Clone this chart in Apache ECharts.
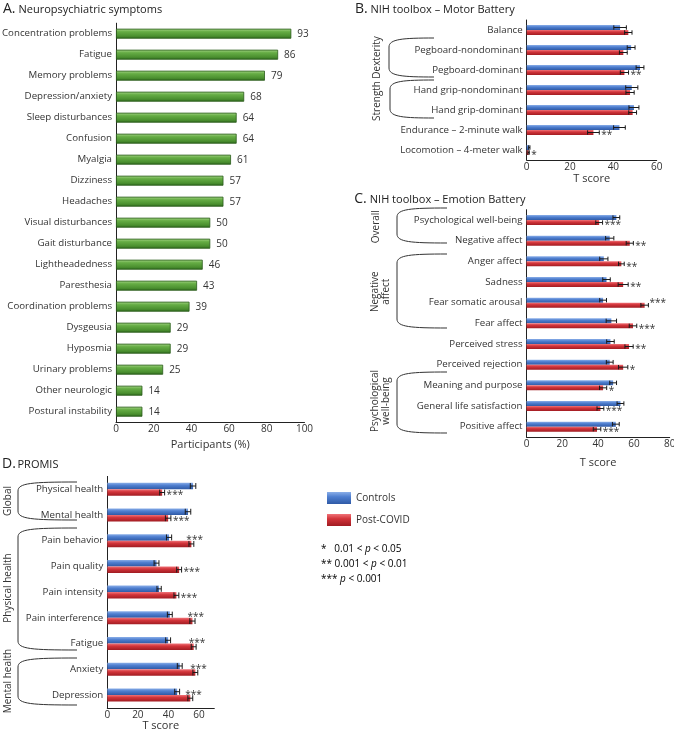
<!DOCTYPE html>
<html><head><meta charset="utf-8">
<script src="https://cdn.jsdelivr.net/npm/echarts@6/dist/echarts.min.js"></script>
<style>html,body{margin:0;padding:0;background:#fff}#c{width:674px;height:733px}</style>
</head><body><div id="c"></div>
<script>
const FONT = '"Open Sans", sans-serif';
const TXT = '#333';

// ---- Panel A data ----
const symptoms = ['Concentration problems','Fatigue','Memory problems','Depression/anxiety','Sleep disturbances','Confusion','Myalgia','Dizziness','Headaches','Visual disturbances','Gait disturbance','Lightheadedness','Paresthesia','Coordination problems','Dysgeusia','Hyposmia','Urinary problems','Other neurologic','Postural instability'];
const symptomPct = [93,86,79,68,64,64,61,57,57,50,50,46,43,39,29,29,25,14,14];

// ---- Panel B data ----
const motorTests = ['Balance','Pegboard-nondominant','Pegboard-dominant','Hand grip-nondominant','Hand grip-dominant','Endurance – 2-minute walk','Locomotion – 4-meter walk'];
const motorControls = [43.1,48.2,52.3,48.5,49.5,42.8,1.2];
const motorControlsErr = [2.9,1.8,1.8,2.8,2.3,2.7,0.3];
const motorPostCovid = [46.9,44.6,45.1,47.7,48.9,30.8,0.9];
const motorPostCovidErr = [1.7,1.8,1.9,1.9,1.8,2.7,0.3];
const motorSig = ['','','**','','','**','*'];
const motorSigPlace = ['r','r','r','r','r','r','r'];

// ---- Panel C data ----
const emotionScales = ['Psychological well-being','Negative affect','Anger affect','Sadness','Fear somatic arousal','Fear affect','Perceived stress','Perceived rejection','Meaning and purpose','General life satisfaction','Positive affect'];
const emotionControls = [50.2,46.5,43.2,44.7,42.8,47.4,46.9,46.5,48.4,52.5,49.9];
const emotionControlsErr = [1.9,2.3,2.3,2.1,1.9,2.9,2.1,1.9,1.9,1.9,1.9];
const emotionPostCovid = [40.6,57.7,53.0,54.0,66.0,59.5,57.3,54.0,42.8,41.3,39.4];
const emotionPostCovidErr = [1.9,2.0,1.6,2.8,2.1,2.1,2.3,2.6,2.0,1.9,2.1];
const emotionSig = ['***','**','**','**','***','***','**','*','*','***','***'];
const emotionSigPlace = ['r','r','r','r','ur','r','r','r','r','r','r'];

// ---- Panel D data ----
const promisDomains = ['Physical health','Mental health','Pain behavior','Pain quality','Pain intensity','Pain interference','Fatigue','Anxiety','Depression'];
const promisControls = [56.1,52.8,40.4,32.2,33.9,40.9,39.8,47.4,45.7];
const promisControlsErr = [1.8,1.8,1.7,1.6,1.4,1.6,1.6,1.6,1.6];
const promisPostCovid = [35.9,39.8,55.0,47.0,45.2,55.7,56.5,57.6,54.3];
const promisPostCovidErr = [1.6,1.8,1.6,1.6,1.6,1.7,1.6,1.6,1.6];
const promisSig = ['***','***','***','***','***','***','***','***','***'];
const promisSigPlace = ['r','r','uc','r','r','uc','uc','uc','uc'];

const seriesNames = ['Controls','Post-COVID'];
const axisTicksA = {min:0, max:100, interval:20};
const axisTicksB = {min:0, max:60, interval:20};
const axisTicksC = {min:0, max:80, interval:20};
const axisTicksD = {min:0, max:70, interval:20};

const chart = echarts.init(document.getElementById('c'), null, {renderer:'canvas'});

const grad = (stops) => ({type:'linear', x:0, y:0, x2:0, y2:1, colorStops: stops.map(([o,c]) => ({offset:o, color:c}))});
const GREEN = grad([[0,'#a8d68a'],[0.3,'#66ad45'],[0.75,'#4a8f2f'],[1,'#2b631a']]);
const BLUE = grad([[0,'#8aaee8'],[0.4,'#4f7fd0'],[1,'#2f5aa6']]);
const RED = grad([[0,'#f07378'],[0.4,'#d2343a'],[1,'#a11c22']]);

const grids = [
  {left:116, top:23.2, width:188.5, height:399},
  {left:526.7, top:20, width:130, height:140},
  {left:526.5, top:209.7, width:143.2, height:227.3},
  {left:107.3, top:476.4, width:107, height:231.4}
].map(g => Object.assign({containLabel:false, outerBoundsMode:'none'}, g));

function catAxis(gi, data) {
  return {type:'category', gridIndex:gi, data, inverse:true,
    axisLine:{show:true, lineStyle:{color:'#222', width:1}},
    axisTick:{show:false},
    axisLabel:{fontSize:9.7, color:TXT, fontFamily:FONT, margin:4}};
}
function valAxis(gi, ticks, name, nameGap) {
  return Object.assign({type:'value', gridIndex:gi,
    axisLine:{show:true, lineStyle:{color:'#222', width:1}}, axisTick:{show:false},
    splitLine:{show:false},
    axisLabel:{fontSize:10, color:TXT, fontFamily:FONT, margin:2, showMaxLabel: ticks.max % ticks.interval === 0},
    name, nameLocation:'middle', nameGap,
    nameTextStyle:{fontSize:11, color:TXT, fontFamily:FONT}}, ticks);
}

function groupSeries(gi, ctrl, ctrlErr, post, postErr, sig, sigPlace, barW) {
  const bars = [
    {name:seriesNames[0], type:'bar', xAxisIndex:gi, yAxisIndex:gi, data:ctrl, barWidth:barW, barGap:'0%', itemStyle:{color:BLUE}, silent:true},
    {name:seriesNames[1], type:'bar', xAxisIndex:gi, yAxisIndex:gi, data:post, barWidth:barW, barGap:'0%', itemStyle:{color:RED}, silent:true}
  ];
  const err = (vals, errs, slot) => ({type:'custom', xAxisIndex:gi, yAxisIndex:gi, silent:true, z:5,
    data: vals.map((v,i) => [v, i, errs[i]]), encode:{x:0, y:1},
    renderItem: (params, api) => {
      const v = api.value(0), c = api.value(1), e = api.value(2);
      const a = api.coord([v - e, c]), b = api.coord([v + e, c]);
      const y = a[1] + slot * barW / 2;
      const h = barW / 2 - 0.3;
      const ls = {stroke:'#1a1a1a', lineWidth:1};
      return {type:'group', children:[
        {type:'line', shape:{x1:a[0], y1:y, x2:b[0], y2:y}, style:ls},
        {type:'line', shape:{x1:a[0], y1:y-h, x2:a[0], y2:y+h}, style:ls},
        {type:'line', shape:{x1:b[0], y1:y-h, x2:b[0], y2:y+h}, style:ls}
      ]};
    }});
  const stars = {type:'custom', xAxisIndex:gi, yAxisIndex:gi, silent:true, z:6,
    data: post.map((v,i) => [v, i, postErr[i]]), encode:{x:0, y:1},
    renderItem: (params, api) => {
      const i = params.dataIndex;
      if (!sig[i]) return null;
      const v = api.value(0), c = api.value(1), e = api.value(2);
      const pe = api.coord([v + e, c]), pv = api.coord([v, c]);
      let x, y;
      const mode = sigPlace[i];
      if (mode === 'r') { x = pe[0] + 2; y = pv[1] + barW / 2 + 3; }
      else if (mode === 'ur') { x = pe[0] + 1; y = pv[1] - barW / 2 + 3; }
      else { x = pv[0] - 5; y = pv[1] - barW / 2 + 3; }
      return {type:'text', style:{text:sig[i], x, y, font:'10px ' + FONT, fill:TXT, align:'left', verticalAlign:'middle'}};
    }};
  return [...bars, err(ctrl, ctrlErr, -1), err(post, postErr, 1), stars];
}

function bracket(x, y0, y1, xr) {
  const st = {stroke:'#333', lineWidth:1, fill:null};
  return {type:'group', silent:true, children:[
    {type:'bezierCurve', shape:{x1:xr, y1:y0, cpx1:x+14, cpy1:y0, cpx2:x, cpy2:y0+1, x2:x, y2:y0+9}, style:st},
    {type:'line', shape:{x1:x, y1:y0+9, x2:x, y2:y1-9}, style:st},
    {type:'bezierCurve', shape:{x1:x, y1:y1-9, cpx1:x, cpy1:y1-1, cpx2:x+14, cpy2:y1, x2:xr, y2:y1}, style:st}
  ]};
}
function vlabel(x, y, text) {
  return {type:'text', x, y, rotation:Math.PI/2, silent:true,
    style:{text, font:'10px ' + FONT, fill:TXT, align:'center', verticalAlign:'middle', lineHeight:11}};
}
function title(x, y, letter, text) {
  return [
    {type:'text', x, y, silent:true, style:{text:letter, font:'14px ' + FONT, fill:'#222', align:'left', verticalAlign:'middle'}},
    {type:'text', x:x + 15.5, y:y + 0.8, silent:true, style:{text, font:'11px ' + FONT, fill:'#222', align:'left', verticalAlign:'middle'}}
  ];
}
function ptext(x, y, stars, pre, post) {
  return {type:'text', x, y, silent:true, style:{
    text: `{n|${stars}${pre}}{i|p}{n|${post}}`,
    rich:{n:{fontSize:10, fontFamily:FONT, color:TXT}, i:{fontSize:10, fontFamily:FONT, fontStyle:'italic', color:TXT}},
    verticalAlign:'middle', align:'left'}};
}

const option = {
  animation:false,
  textStyle:{fontFamily:FONT},
  grid: grids,
  xAxis: [
    valAxis(0, axisTicksA, 'Participants (%)', 15),
    valAxis(1, axisTicksB, 'T score', 11),
    valAxis(2, axisTicksC, 'T score', 20),
    valAxis(3, axisTicksD, 'T score', 13)
  ],
  yAxis: [catAxis(0, symptoms), catAxis(1, motorTests), catAxis(2, emotionScales), catAxis(3, promisDomains)],
  legend: {data:seriesNames, orient:'vertical', left:322, top:487, itemWidth:24, itemHeight:12, itemGap:10,
    selectedMode:false, icon:'rect', textStyle:{fontSize:10, color:TXT, fontFamily:FONT}},
  series: [
    {type:'bar', xAxisIndex:0, yAxisIndex:0, data:symptomPct, barWidth:10, silent:true,
      itemStyle:{color:GREEN, borderColor:'#2a5c1a', borderWidth:0.8},
      label:{show:true, position:'right', distance:6, fontSize:10, color:TXT, fontFamily:FONT}},
    ...groupSeries(1, motorControls, motorControlsErr, motorPostCovid, motorPostCovidErr, motorSig, motorSigPlace, 5),
    ...groupSeries(2, emotionControls, emotionControlsErr, emotionPostCovid, emotionPostCovidErr, emotionSig, emotionSigPlace, 5),
    ...groupSeries(3, promisControls, promisControlsErr, promisPostCovid, promisPostCovidErr, promisSig, promisSigPlace, 6.5)
  ],
  graphic: [
    ...title(3, 9, 'A.', 'Neuropsychiatric symptoms'),
    ...title(355, 9, 'B.', 'NIH toolbox – Motor Battery'),
    ...title(354.3, 198.8, 'C.', 'NIH toolbox – Emotion Battery'),
    ...title(2, 463.8, 'D.', 'PROMIS'),
    bracket(389, 38, 77, 434), vlabel(377.5, 57.5, 'Dexterity'),
    bracket(390, 80, 118, 434), vlabel(376.7, 101, 'Strength'),
    bracket(397, 208, 243, 447), vlabel(375.7, 226.7, 'Overall'),
    bracket(397, 254, 328, 447), vlabel(380.5, 291.7, 'Negative\naffect'),
    bracket(397, 372, 433, 447), vlabel(380.5, 401, 'Psychological\nwell-being'),
    bracket(18, 482, 520, 77), vlabel(8, 501, 'Global'),
    bracket(18, 528, 650, 77), vlabel(8, 588, 'Physical health'),
    bracket(18, 658, 705, 77), vlabel(8, 681, 'Mental health'),
    ptext(321, 549, '*   ', '0.01 < ', ' < 0.05'),
    ptext(321, 564, '** ', '0.001 < ', ' < 0.01'),
    ptext(321, 579, '*** ', '', ' < 0.001')
  ]
};
chart.setOption(option);
</script></body></html>
